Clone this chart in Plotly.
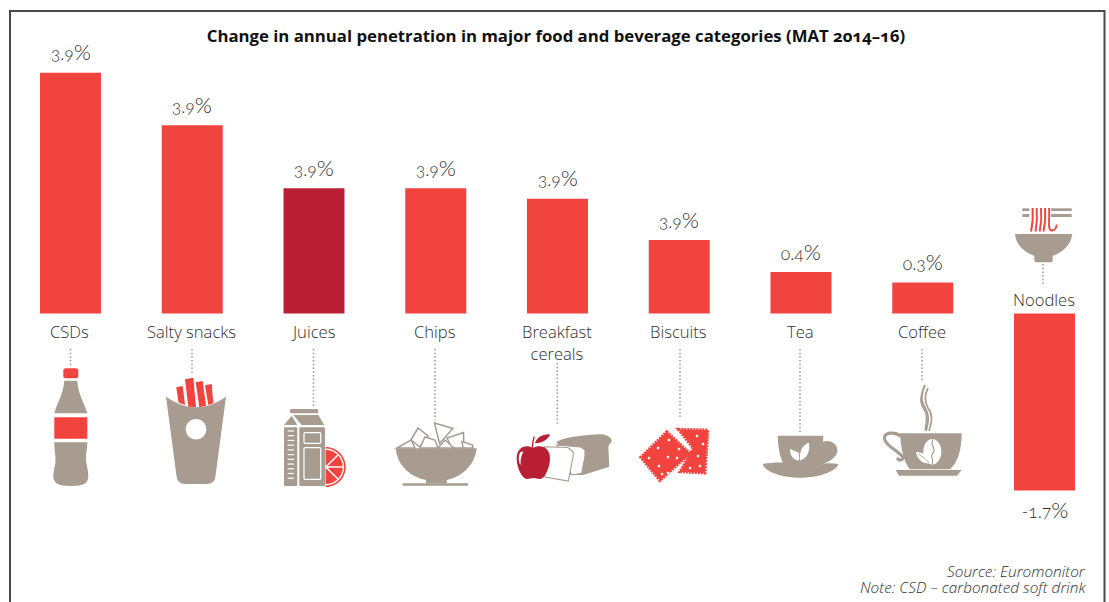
import re
import plotly.graph_objects as go

# Chart data
categories = ["CSDs", "Salty snacks", "Juices", "Chips", "Breakfast<br>cereals", "Biscuits", "Tea", "Coffee", "Noodles"]
# Bar lengths are measured; the first six do not correspond to their printed "3.9%" labels
bar_values = [2.325, 1.82, 1.21, 1.21, 1.108, 0.71, 0.40, 0.30, -1.71]
value_labels = ["3.9%", "3.9%", "3.9%", "3.9%", "3.9%", "3.9%", "0.4%", "0.3%", "-1.7%"]
note_lines = ["Source: Euromonitor", "Note: CSD – carbonated soft drink"]
title_text = "Change in annual penetration in major food and beverage categories (MAT 2014–16)"

W, H = 1109, 602
RED, DARK, TAUPE, INK = "#F2443F", "#B92033", "#A89C91", "#2E2E30"
bar_colors = [RED, RED, DARK, RED, RED, RED, RED, RED, RED]
NUM_FONT = "Lato Light, Lato, sans-serif"
TXT_FONT = "Open Sans, sans-serif"
PITCH, FIRST, BASE, SCALE = 121.75, 70.5, 313.5, 103.5

fig = go.Figure()
fig.add_trace(go.Bar(x=list(range(9)), y=bar_values, width=61 / PITCH,
                     marker=dict(color=bar_colors, line_width=0), hoverinfo="skip"))
shapes, notes = [], []


def shape(path, fill=TAUPE, line=None, lw=0, dash=None):
    """Add a filled SVG path in page-pixel coordinates."""
    shapes.append(dict(type="path", path=path, xref="x2", yref="y2", layer="above",
                       fillcolor=fill or "rgba(0,0,0,0)",
                       line=dict(color=line or "rgba(0,0,0,0)", width=lw, dash=dash or "solid")))


def poly(pts, **kw):
    shape("M" + " L".join(f"{x},{y}" for x, y in pts) + " Z", **kw)


def stroke(path, color=TAUPE, lw=1.5, dash=None):
    shape(path, fill=None, line=color, lw=lw, dash=dash)


def ellipse(cx, cy, rx, ry=None, **kw):
    ry = rx if ry is None else ry
    kx, ky = rx * 0.5523, ry * 0.5523
    shape(f"M{cx-rx},{cy} C{cx-rx},{cy-ky} {cx-kx},{cy-ry} {cx},{cy-ry} "
          f"C{cx+kx},{cy-ry} {cx+rx},{cy-ky} {cx+rx},{cy} "
          f"C{cx+rx},{cy+ky} {cx+kx},{cy+ry} {cx},{cy+ry} "
          f"C{cx-kx},{cy+ry} {cx-rx},{cy+ky} {cx-rx},{cy} Z", **kw)


def half_disc(cx, cy, r, **kw):
    k = r * 0.5523
    shape(f"M{cx},{cy-r} C{cx+k},{cy-r} {cx+r},{cy-k} {cx+r},{cy} "
          f"C{cx+r},{cy+k} {cx+k},{cy+r} {cx},{cy+r} Z", **kw)


def rrect(x0, y0, x1, y1, r=1.5, **kw):
    shape(f"M{x0+r},{y0} L{x1-r},{y0} Q{x1},{y0} {x1},{y0+r} L{x1},{y1-r} Q{x1},{y1} {x1-r},{y1} "
          f"L{x0+r},{y1} Q{x0},{y1} {x0},{y1-r} L{x0},{y0+r} Q{x0},{y0} {x0+r},{y0} Z", **kw)


# Page frame: open along the bottom edge
stroke("M10,602 L10,11 L1104.5,11 L1104.5,602", color="#4A4A4A", lw=2)

# Dotted leaders between category names and icons
for x, y0, y1 in [(70.5, 349, 367), (192, 349, 375), (313.5, 349, 407), (435, 349, 420),
                  (557.3, 363, 425), (680, 349, 419), (800, 349, 432), (922, 349, 380),
                  (1043, 264, 286)]:
    stroke(f"M{x},{y0} L{x},{y1}", lw=1.6, dash="1.5px,2.2px")

# Bottle
rrect(63.3, 368.3, 78.3, 378.3, 2.5, fill=RED)
shape("M64.2,380.7 L77.3,380.7 C78,394 84,402 87.3,413.3 L54.3,413.3 C57.5,402 63.5,394 64.2,380.7 Z")
poly([(54.3, 417.3), (87.3, 417.3), (87.3, 438.7), (54.3, 438.7)], fill=RED)
shape("M54.3,442.3 L87.3,442.3 C87.3,450 85.5,454 86,460 C86.5,466 88.3,470 88.3,476 "
      "C88.3,483 84,486 71,486 C58,486 53.3,483 53.3,476 C53.3,470 55.5,466 55.5,460 "
      "C55.5,454 54.3,450 54.3,442.3 Z")

# Fries
poly([(176.3, 387.3), (182.7, 386), (185, 405), (178.5, 402.5)], fill=RED)
poly([(185, 379.3), (193.3, 377.7), (196, 407), (188.3, 406.7)], fill=RED)
poly([(195.7, 382.3), (202.7, 381), (206, 406), (199.3, 407)], fill=RED)
poly([(205, 385.3), (211.7, 384), (213.3, 403.3), (208.3, 405)], fill=RED)
shape("M166,396.7 Q196,418 226,396.7 L215.5,476 Q214.5,484 207,484 L185,484 "
      "Q177.5,484 176.5,476 Z")
ellipse(196, 429.3, 10.3, fill="white")

# Juice carton with citrus slice
half_disc(325.7, 467, 20, fill=RED)
half_disc(325.7, 467, 18.4, fill="white")
half_disc(325.7, 467, 17, fill=RED)
for x1, y1 in [(338, 455), (343, 467), (338, 479)]:
    stroke(f"M325.7,467 L{x1},{y1}", color="white", lw=1.5)
rrect(290, 409, 318.3, 413.3, 1.5)
poly([(284, 425), (291.7, 415.7), (297.3, 425)])
poly([(293.3, 415), (318.3, 415), (324.3, 425), (301.7, 425)])
rrect(284, 427.3, 297.3, 486, 1)
rrect(299.3, 427.3, 325, 486, 1)
for i in range(11):
    y = 431 + i * 4.72
    stroke(f"M287.7,{y} L294,{y}", color="white", lw=1.2)
rrect(304, 432.7, 320.7, 443.3, 1, fill=None, line="white", lw=1.2)
rrect(304, 447.7, 320.7, 479.3, 1, fill=None, line="white", lw=1.2)

# Chips in a bowl
for chip in [[(397, 448), (411, 440), (415, 448)],
             [(411, 440), (418, 428), (428, 436), (420, 447)],
             [(434.5, 423), (453, 428.5), (439.5, 443.5)],
             [(447, 438), (463.5, 432.5), (464, 448), (452, 448)],
             [(425, 437), (435, 440), (438, 448), (420, 448)],
             [(462, 441.5), (472.5, 445), (473, 448), (463, 448)],
             [(438, 448), (445, 440), (454, 448)]]:
    poly(chip, fill="white", line=TAUPE, lw=1.5)
shape("M395.7,448.3 L476.7,448.3 C475,465 462,477 446.7,480 L446.7,483.5 L426,483.5 "
      "L426,480 C410,477 397,465 395.7,448.3 Z")
poly([(402.7, 483.3), (468, 483.3), (468, 485.7), (402.7, 485.7)])

# Bread loaf and apple
shape("M556.7,441.7 C565,437 583,435 601.7,434.3 C608,435 612,438 611.7,441.7 "
      "C609,444 608,446 608.5,450 L609.3,466.7 L583.3,475 L570,475 Z")
poly([(556.7, 445), (581, 447), (585, 450), (585, 456), (581.7, 473.3), (571.7, 475)],
     fill="white", line=TAUPE, lw=1.1)
poly([(544.3, 446.7), (568, 447.5), (573.3, 452), (573, 457), (568.3, 481), (545, 477)],
     fill="white", line=TAUPE, lw=1.1)
shape("M533,448 C526,444 517,447 516.7,458 C516.5,467 522,479 527,479 C530,479 531,478 533.5,478 "
      "C536,478 537,479 540,479 C545,479 550,467 550,458 C550,447 540,444 533,448 Z", fill=DARK)
stroke("M532.3,448.3 C532.5,444 533,440 534.3,436.7", color=DARK, lw=1.3)
shape("M535,443.3 C536,438 542,434 550,434.3 C549,439 542,443.5 535,443.3 Z", fill=DARK)
shape("M520.5,452 C518,456 518.5,462 520.5,465 C520.5,460 521,456 523.5,451.5 Z", fill="white")

# Biscuits with dotted icing
poly([(678.3, 429.3), (708, 430), (705, 473), (680, 471.7), (693.3, 448.3)],
     fill=RED, line=RED, lw=3, dash="2px,1px")
poly([(666.7, 431.7), (690, 453.3), (660, 480.7), (640.7, 457.3)],
     fill=RED, line=RED, lw=3, dash="2px,1px")
for cx, cy in [(669, 440), (679, 449), (658, 448), (668, 457), (677, 458),
               (649, 458), (659, 466), (668, 473), (662, 474),
               (697, 436), (703, 444), (698, 456), (700, 466), (690, 468)]:
    ellipse(cx, cy, 1.3, fill="white")

# Tea cup on a saucer
shape("M762.7,464 C775,462 785,462 790,464 C800,470 812,470 819,465 C825,463 832,463 838.3,464 "
      "C836,472 818,477.7 800,477.7 C782,477.7 765,472 762.7,464 Z")
shape("M823,441.7 C832,439 838,445 837.3,451.7 C836,459 825,464 815,467 Z")
shape("M777.7,435.7 L823.3,435.7 C823,450 820,464 813,469.3 L788,469.3 C781,464 778,450 777.7,435.7 Z")
shape("M799,453 C795,451 790,449 790,449 C790,456 794,460.5 799,460.5 Z", fill="white")
shape("M800,460.5 C799,452 802,445 809,442.7 C810,450 808,458 800,460.5 Z", fill="white")

# Coffee cup with steam
stroke("M925,385 C921,394 920,400 925,408 C930,416 928,422 926,431", lw=2)
stroke("M928,388 C925,394 924,401 928,408 C934,416 931,423 929,431", lw=1.7)
stroke("M923,393 C919,400 921,405 925,411 C928,417 926,423 925,430", lw=1.4)
stroke("M902,437 C895,431 883,432 884.5,439 C886,446 898,451 902,456 C905,459 900,462 897,458",
       lw=3.2)
shape("M900,433.3 L961.7,433.3 C961.5,450 958,462 950,469.3 L910,469.3 C904,463 901,450 900,433.3 Z")
shape("M895.7,470 L961.7,470 L957,475.7 L899,475.7 Z")
ellipse(932.3, 451.7, 9, 12.7, fill="white")
stroke("M933,439.5 C929,445 937,449 933,453 C929,457 935,460 932,464", lw=1.2)
shape("M916,452 C924,452 930,457 930,463.5 C922,464 917,459 916,452 Z", fill="white")
stroke("M918,454 C922,456 926,459 929,463", lw=0.8)

# Noodle bowl
shape("M1015,234 L1072.3,234 C1071,245 1062,253 1052.7,255.7 L1052.7,260 Q1052.7,262.3 1050,262.3 "
      "L1037,262.3 Q1034.3,262.3 1034.3,260 L1034.3,255.7 C1025,253 1016,245 1015,234 Z")
for y0, y1 in [(208.3, 211), (214, 217)]:
    poly([(1051, y0), (1071.7, y0), (1071.7, y1), (1051, y1)])
    poly([(1022.3, y0), (1029.3, y0), (1029.3, y1), (1022.3, y1)])
for top, bottom in [(1032.5, 1031), (1036.7, 1035.5), (1041, 1039.7), (1045, 1043.5)]:
    stroke(f"M{top},208 Q{top+1},220 {bottom},231.5", color=RED, lw=1.9)
stroke("M1049,208 C1050,218 1047,231 1052,230.5 C1056,230 1056.5,227 1056.7,224.5",
       color=RED, lw=1.9)

# Value labels sit just outside each bar end, with an enlarged percent sign
for i, (v, text) in enumerate(zip(bar_values, value_labels)):
    styled = re.sub("%", "<span style='font-size:22px'>%</span>", text)
    notes.append(dict(x=i, y=v, xref="x", yref="y", text=styled, showarrow=False,
                      yshift=21 if v > 0 else -19, font=dict(size=17.5, color=INK, family=NUM_FONT)))

# Category names under the baseline; Noodles sits above its inverted bar
for i, name in enumerate(categories):
    y = 299 if name == "Noodles" else 318 if "<br>" in name else 331
    notes.append(dict(x=i, y=y, xref="x", yref="y2", text=name, showarrow=False,
                      xshift=-1, yanchor="top" if "<br>" in name else "middle",
                      font=dict(size=16.6, color=INK, family=TXT_FONT, weight=300)))

notes.append(dict(x=556, y=35, xref="x2", yref="y2", text=f"<b>{title_text}</b>", showarrow=False,
                  font=dict(size=16.75, color="#111111", family=TXT_FONT)))
for y, line in zip([571, 587], note_lines):
    notes.append(dict(x=1088, y=y, xref="x2", yref="y2", xanchor="right", showarrow=False,
                      text=f"<i>{line}</i>", font=dict(size=15.4, color=INK, family=TXT_FONT, weight=300)))

fig.update_layout(
    width=W, height=H, margin=dict(l=0, r=0, t=0, b=0), showlegend=False,
    paper_bgcolor="white", plot_bgcolor="white", shapes=shapes, annotations=notes,
    xaxis=dict(range=[-FIRST / PITCH, (W - FIRST) / PITCH], visible=False, domain=[0, 1]),
    yaxis=dict(range=[-(H - BASE) / SCALE, BASE / SCALE], visible=False, domain=[0, 1]),
    xaxis2=dict(range=[0, W], visible=False, overlaying="x", anchor="y2"),
    yaxis2=dict(range=[H, 0], visible=False, overlaying="y", anchor="x2"),
)
fig.add_trace(go.Scatter(x=[0], y=[0], xaxis="x2", yaxis="y2", mode="markers",
                         marker=dict(opacity=0), hoverinfo="skip"))

# Old-style figures for every text element
fig.write_html("out.html", config=dict(displayModeBar=False),
               post_script="document.querySelectorAll('svg text').forEach(function(t){"
                           "t.style.fontFeatureSettings='\"onum\"';});"
                           "document.body.style.margin='0';")
